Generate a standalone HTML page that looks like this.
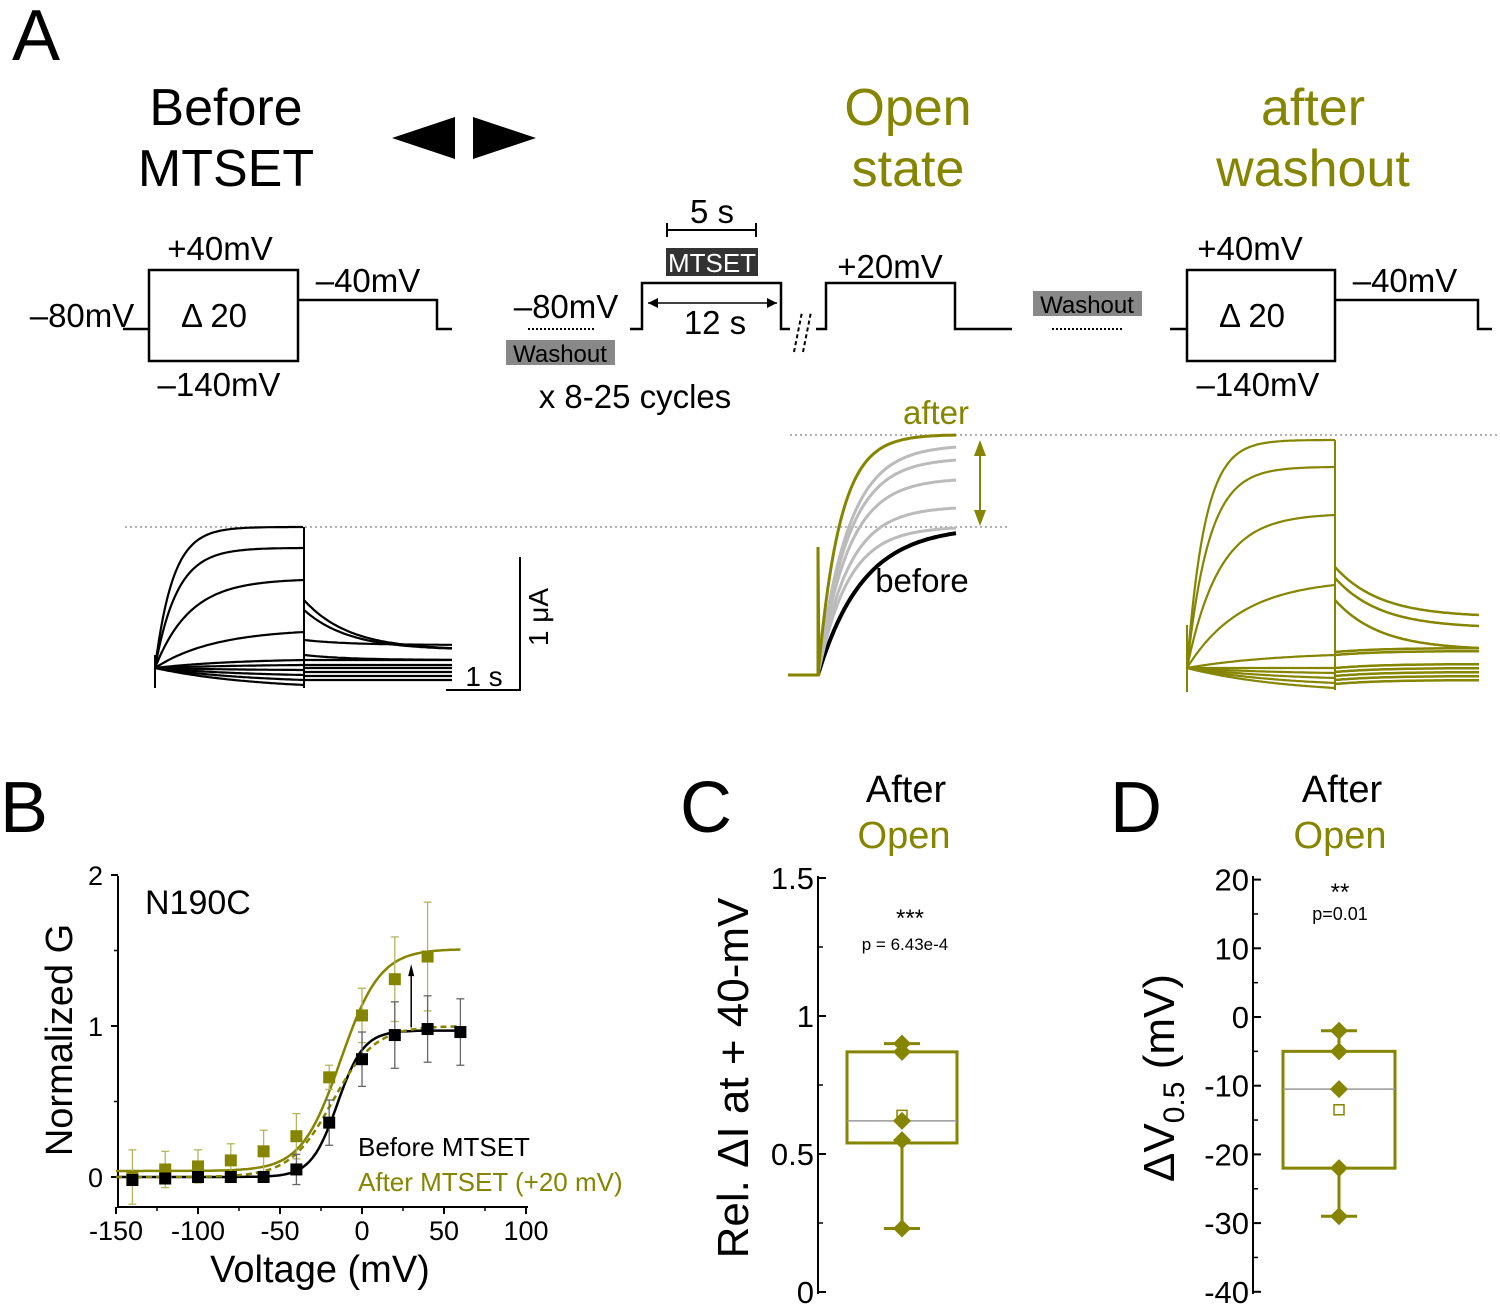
<!DOCTYPE html>
<html><head><meta charset="utf-8"><style>
body{margin:0;background:#fff}
svg{display:block;font-family:"Liberation Sans",Arial,sans-serif}
</style></head><body>
<svg id="fig" width="1500" height="1306" viewBox="0 0 1500 1306">
<g>
<text x="12" y="60" font-size="72">A</text>
<text x="226" y="125" font-size="52" text-anchor="middle">Before</text>
<text x="226" y="186" font-size="52" text-anchor="middle">MTSET</text>
<polygon points="392,138 455,117 455,159" fill="#000"/>
<polygon points="536,138 473,117 473,159" fill="#000"/>
<text x="908" y="125" font-size="52" fill="#858500" text-anchor="middle">Open</text>
<text x="908" y="186" font-size="52" fill="#858500" text-anchor="middle">state</text>
<text x="1313" y="125" font-size="52" fill="#858500" text-anchor="middle">after</text>
<text x="1313" y="186" font-size="52" fill="#858500" text-anchor="middle">washout</text>
<g fill="none" stroke="#000" stroke-width="2.5">
<rect x="149" y="270" width="149" height="91"/>
<polyline points="123,329 149,329"/><polyline points="298,300 437,300 437,329 452,329"/>
<polyline points="630,329 642,329 642,283 781,283 781,329 790,329"/>
<polyline points="816,329 826,329 826,283 955,283 955,329 1012,329"/>
<rect x="1187" y="270" width="148" height="91"/>
<polyline points="1170,329 1187,329"/><polyline points="1335,300 1478,300 1478,329 1492,329"/>
<polyline points="667,230 756,230" stroke-width="2"/><polyline points="667,223 667,237" stroke-width="2"/><polyline points="756,223 756,237" stroke-width="2"/>
<polyline points="648,303 777,303" stroke-width="1.5"/>
<polyline points="794,352 802,312" stroke-dasharray="4,3" stroke-width="2"/><polyline points="803,352 811,312" stroke-dasharray="4,3" stroke-width="2"/>
<polyline points="528,329 596,329" stroke-dasharray="2,2" stroke-width="2"/>
<polyline points="1052,329 1122,329" stroke-dasharray="2,2" stroke-width="2"/>
</g>
<polygon points="648,303 658,298 658,308" fill="#000"/><polygon points="777,303 767,298 767,308" fill="#000"/>
<g font-size="33">
<text x="220" y="260" text-anchor="middle">+40mV</text>
<text x="368" y="292" text-anchor="middle">–40mV</text>
<text x="82" y="327" text-anchor="middle">–80mV</text>
<text x="214" y="327" text-anchor="middle">Δ 20</text>
<text x="219" y="396" text-anchor="middle">–140mV</text>
<text x="712" y="223" text-anchor="middle">5 s</text>
<rect x="666" y="248" width="92" height="28" fill="#333"/>
<text x="712" y="272" text-anchor="middle" fill="#fff" font-size="26">MTSET</text>
<text x="566" y="318" text-anchor="middle">–80mV</text>
<text x="715" y="334" text-anchor="middle">12 s</text>
<text x="890" y="278" text-anchor="middle">+20mV</text>
<rect x="506" y="340" width="109" height="25" fill="#888"/>
<text x="560" y="362" text-anchor="middle" font-size="24">Washout</text>
<rect x="1033" y="291" width="109" height="25" fill="#888"/>
<text x="1087" y="313" text-anchor="middle" font-size="24">Washout</text>
<text x="635" y="408" text-anchor="middle">x 8-25 cycles</text>
<text x="1250" y="260" text-anchor="middle">+40mV</text>
<text x="1405" y="292" text-anchor="middle">–40mV</text>
<text x="1252" y="327" text-anchor="middle">Δ 20</text>
<text x="1258" y="396" text-anchor="middle">–140mV</text>
<text x="936" y="424" text-anchor="middle" fill="#858500">after</text>
<text x="922" y="592" text-anchor="middle">before</text>
</g>
<line x1="125" y1="527" x2="1010" y2="527" stroke="#999" stroke-width="1.5" stroke-dasharray="2,3"/>
<line x1="790" y1="435" x2="1500" y2="435" stroke="#999" stroke-width="1.5" stroke-dasharray="2,3"/>
<line x1="980" y1="445" x2="980" y2="520" stroke="#858500" stroke-width="2"/>
<polygon points="980,440 974,456 986,456" fill="#858500"/><polygon points="980,526 974,510 986,510" fill="#858500"/>
<g stroke="#000" stroke-width="2" fill="none"><polyline points="520,557 520,690 446,690"/></g>
<text x="548" y="617" font-size="28" transform="rotate(-90 548 617)" text-anchor="middle">1 μA</text>
<text x="484" y="686" font-size="28" text-anchor="middle">1 s</text>
<g id="traces"></g>
</g>

<g>
<text x="0" y="832" font-size="72">B</text>
<g id="chartB"></g>
</g>
<g>
<text x="680" y="832" font-size="72">C</text>
<text x="906" y="802" font-size="38" text-anchor="middle">After</text>
<text x="904" y="848" font-size="38" fill="#858500" text-anchor="middle">Open</text>
<text x="910" y="926" font-size="24" text-anchor="middle">***</text>
<text x="905" y="950" font-size="17" text-anchor="middle">p = 6.43e-4</text>
<text x="748" y="1078" font-size="44" text-anchor="middle" transform="rotate(-90 748 1078)">Rel. ΔI at + 40-mV</text>
<g id="chartC"></g>
</g>
<g>
<text x="1110" y="832" font-size="72">D</text>
<text x="1342" y="802" font-size="38" text-anchor="middle">After</text>
<text x="1340" y="848" font-size="38" fill="#858500" text-anchor="middle">Open</text>
<text x="1340" y="900" font-size="24" text-anchor="middle">**</text>
<text x="1340" y="920" font-size="18" text-anchor="middle">p=0.01</text>
<text x="1174" y="1078" font-size="44" text-anchor="middle" transform="rotate(-90 1174 1078)">ΔV<tspan font-size="30" dy="10">0.5</tspan><tspan dy="-10"> (mV)</tspan></text>
<g id="chartD"></g>
</g>
</svg>
<script>
const NS="http://www.w3.org/2000/svg";
function mk(p,t,a){const e=document.createElementNS(NS,t);for(const k in a)e.setAttribute(k,a[k]);p.appendChild(e);return e;}
const OL="#858500";
// ---- Panel A traces ----
const leftLevels=[527,548,580,632,660,665,670,675,680,685];
const leftTails=[600,610,640,655,660,665,668,672,676,680];
const midLevels=[533,528,508,480,460,447,435];
const rightLevels=[440,467,515,585,655,668,673,678,683,688];
const rightTails=[567,578,600,655,652,668,672,676,680,684];
const T=document.getElementById('traces');
function trace(x0,x1,base,lev,tau,col,w){let pts=[];const n=1-Math.exp(-(x1-x0)/tau);for(let x=x0;x<=x1;x+=2){const f=(1-Math.exp(-(x-x0)/tau))/n;pts.push(x+','+(base+(lev-base)*f).toFixed(1));}
const e=mk(T,'polyline',{points:pts.join(' '),fill:'none',stroke:col,'stroke-width':w});

}
function tail(x0,x1,start,end,col,w){let pts=[];for(let x=x0;x<=x1;x+=2){const f=Math.exp(-(x-x0)/45);pts.push(x+','+(end+(start-end)*f).toFixed(1));}
const e=mk(T,'polyline',{points:pts.join(' '),fill:'none',stroke:col,'stroke-width':w});

}
leftLevels.forEach((l,i)=>{const tau=[18,22,35,60,80][i]||100;trace(155,304,668,l,tau,'#000',2.2);tail(304,452,leftTails[i],i<2?650:i<4?leftTails[i]+5:leftTails[i],'#000',2.2);});
mk(T,'line',{x1:304,y1:527,x2:304,y2:688,stroke:'#000','stroke-width':2});
mk(T,'line',{x1:155,y1:655,x2:155,y2:688,stroke:'#000','stroke-width':2});
midLevels.forEach((l,i)=>{const c=i==0?'#000':i==6?OL:'#bbb';trace(818,957,675,l,i==0?45:i==6?22:30,c,i==0?4:3);});
mk(T,'polyline',{points:'788,675 818,675 818,547 819,675',fill:'none',stroke:OL,'stroke-width':3});
rightLevels.forEach((l,i)=>{const tau=[18,22,32,55,90][i]||100;trace(1187,1335,668,l,tau,OL,2.2);tail(1335,1480,rightTails[i],i<3?rightTails[i]+50:rightTails[i]-4,OL,2.5);});
mk(T,'line',{x1:1335,y1:440,x2:1335,y2:690,stroke:OL,'stroke-width':2});
mk(T,'line',{x1:1187,y1:625,x2:1187,y2:692,stroke:OL,'stroke-width':2});

// ---- Panel B ----
const voltages=[-140,-120,-100,-80,-60,-40,-20,0,20,40,60];
const beforeG=[-0.02,-0.01,0,0,0,0.05,0.36,0.78,0.94,0.98,0.96];
const beforeErr=[0.03,0.03,0.03,0.02,0.02,0.1,0.15,0.18,0.22,0.22,0.22];
const afterV=[-140,-120,-100,-80,-60,-40,-20,0,20,40];
const afterG=[0,0.05,0.07,0.11,0.17,0.27,0.66,1.07,1.31,1.46];
const afterErr=[0.18,0.12,0.11,0.11,0.14,0.15,0.08,0.18,0.28,0.36];
const xTicksB=[-150,-100,-50,0,50,100];
const yTicksB=[0,1,2];
const xB=v=>362+(v)*1.64, yB=g=>1177-g*151;
const B=document.getElementById('chartB');
mk(B,'polyline',{points:`118,876 118,1207 528,1207`,fill:'none',stroke:'#000','stroke-width':2});
xTicksB.forEach(t=>{mk(B,'line',{x1:xB(t),y1:1207,x2:xB(t),y2:1214,stroke:'#000','stroke-width':2});const e=mk(B,'text',{x:xB(t),y:1240,'font-size':27,'text-anchor':'middle'});e.textContent=t;
});
[-125,-75,-25,25,75].forEach(t=>mk(B,'line',{x1:xB(t),y1:1207,x2:xB(t),y2:1211,stroke:'#000','stroke-width':1.5}));
yTicksB.forEach(t=>{mk(B,'line',{x1:111,y1:yB(t),x2:118,y2:yB(t),stroke:'#000','stroke-width':2});const e=mk(B,'text',{x:103,y:yB(t)+10,'font-size':27,'text-anchor':'end'});e.textContent=t;
});
[0.5,1.5].forEach(t=>mk(B,'line',{x1:114,y1:yB(t),x2:118,y2:yB(t),stroke:'#000','stroke-width':1.5}));
let tx=mk(B,'text',{x:320,y:1282,'font-size':38,'text-anchor':'middle'});tx.textContent='Voltage (mV)';
tx=mk(B,'text',{x:72,y:1040,'font-size':38,'text-anchor':'middle',transform:'rotate(-90 72 1040)'});tx.textContent='Normalized G';
tx=mk(B,'text',{x:145,y:914,'font-size':34});tx.textContent='N190C';
tx=mk(B,'text',{x:358,y:1156,'font-size':26});tx.textContent='Before MTSET';
tx=mk(B,'text',{x:358,y:1191,'font-size':26,fill:OL});tx.textContent='After MTSET (+20 mV)';
function boltz(b,a,vh,k,dash,col){let p=[];for(let v=-150;v<=60;v+=2)p.push(xB(v).toFixed(1)+','+yB(b+a/(1+Math.exp((vh-v)/k))).toFixed(1));
const e=mk(B,'polyline',{points:p.join(' '),fill:'none',stroke:col,'stroke-width':2.5,'stroke-dasharray':dash});
}
boltz(0,0.97,-15,8,'none','#000');
boltz(0.04,1.47,-13,12,'none',OL);
boltz(0.0,1.0,-18,13,'6,4',OL);
mk(B,'line',{x1:xB(30),y1:yB(0.99),x2:xB(30),y2:yB(1.36),stroke:'#000','stroke-width':1.5});
mk(B,'polygon',{points:`${xB(30)},${yB(1.41)} ${xB(30)-3},${yB(1.33)} ${xB(30)+3},${yB(1.33)}`,fill:'#000'});
function pts(vs,gs,es,col,ec){vs.forEach((v,i)=>{const x=xB(v);mk(B,'line',{x1:x,y1:yB(gs[i]-es[i]),x2:x,y2:yB(gs[i]+es[i]),stroke:ec,'stroke-width':1.3});
[gs[i]-es[i],gs[i]+es[i]].forEach(g=>mk(B,'line',{x1:x-4,y1:yB(g),x2:x+4,y2:yB(g),stroke:ec,'stroke-width':1.3}));
const r=mk(B,'rect',{x:x-6,y:yB(gs[i])-6,width:12,height:12,fill:col});
});}
pts(afterV,afterG,afterErr,OL,'#b5b560');
pts(voltages,beforeG,beforeErr,'#000','#666');

// ---- Box plots ----
const cTicks=[0,0.5,1,1.5];
const cPoints=[0.9,0.87,0.62,0.55,0.23];
const cBox=[0.54,0.62,0.87];const cWhisk=[0.23,0.9];const cMean=0.64;
const dTicks=[-40,-30,-20,-10,0,10,20];
const dPoints=[-2,-5,-10.5,-22,-29];
const dBox=[-22,-10.5,-5];const dWhisk=[-29,-2];const dMean=-13.5;
function box(id,ax,yf,ticks,minor,pts,bx,wh,mean,x0,x1,top,bot){const G=document.getElementById(id);const cx=(x0+x1)/2;
mk(G,'line',{x1:ax,y1:top,x2:ax,y2:bot,stroke:'#000','stroke-width':2});
ticks.forEach(t=>{mk(G,'line',{x1:ax,y1:yf(t),x2:ax+8,y2:yf(t),stroke:'#000','stroke-width':2});const e=mk(G,'text',{x:ax-4,y:yf(t)+11,'font-size':31,'text-anchor':'end'});e.textContent=t;
});
minor.forEach(t=>mk(G,'line',{x1:ax,y1:yf(t),x2:ax+5,y2:yf(t),stroke:'#000','stroke-width':1.5}));
mk(G,'line',{x1:cx,y1:yf(wh[0]),x2:cx,y2:yf(wh[1]),stroke:OL,'stroke-width':3});
wh.forEach(w=>mk(G,'line',{x1:cx-18,y1:yf(w),x2:cx+18,y2:yf(w),stroke:OL,'stroke-width':3}));
const r=mk(G,'rect',{x:x0,y:yf(bx[2]),width:x1-x0,height:yf(bx[0])-yf(bx[2]),fill:'#fff',stroke:OL,'stroke-width':3});

mk(G,'line',{x1:x0,y1:yf(bx[1]),x2:x1,y2:yf(bx[1]),stroke:'#999','stroke-width':1.5});
mk(G,'rect',{x:cx-5,y:yf(mean)-5,width:10,height:10,fill:'none',stroke:OL,'stroke-width':1.5});
pts.forEach(p=>{const y=yf(p);const d=mk(G,'polygon',{points:`${cx},${y-9} ${cx+9},${y} ${cx},${y+9} ${cx-9},${y}`,fill:OL});
});}
box('chartC',818,v=>1292-v*276,cTicks,[0.25,0.75,1.25],cPoints,cBox,cWhisk,cMean,847,957,876,1294);
box('chartD',1253,v=>1017-v*6.87,dTicks,[-35,-25,-15,-5,5,15],dPoints,dBox,dWhisk,dMean,1283,1395,876,1294);
</script>
</body></html>
